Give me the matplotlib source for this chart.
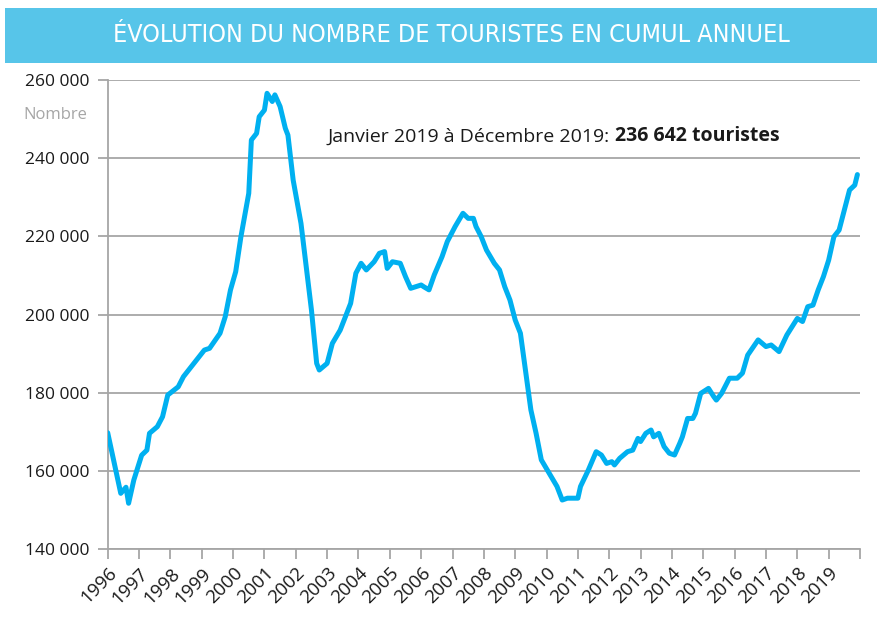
import matplotlib
matplotlib.use("Agg")
import matplotlib.pyplot as plt
import matplotlib.font_manager as fm
from matplotlib.patches import Rectangle
import matplotlib.transforms as mtransforms

# ---- data (month index from January 1996, cumulative annual tourists) ----
months = [0, 5, 7, 8, 10, 13, 15, 16, 19, 21, 23, 27, 29, 37, 39, 43, 45, 47, 49, 51,
          54, 55, 57, 58, 60, 61, 63, 64, 66, 68, 69, 71, 74, 76, 78, 80, 81, 84, 86, 89,
          91, 93, 95, 97, 99, 102, 104, 106, 107, 109, 112, 114, 116, 120, 121, 123, 125,
          128, 130, 133, 136, 138, 140, 141, 143, 145, 148, 150, 152, 154, 156, 158, 162,
          164, 166, 169, 172, 174, 176, 180, 181, 184, 187, 189, 191, 193, 194, 196, 199,
          201, 203, 204, 206, 208, 209, 211, 213, 215, 217, 219, 220, 222, 224, 225, 227,
          230, 232, 233, 235, 238, 241, 243, 245, 249, 252, 254, 257, 260, 264, 266, 268,
          270, 272, 274, 276, 278, 280, 282, 284, 286, 287]
tourists = [169750, 154240, 155800, 151700, 157650, 164000, 165300, 169600, 171300, 173850,
            179400, 181500, 184100, 190900, 191350, 195200, 199450, 206270, 210950, 219900,
            231000, 244650, 246350, 250600, 252300, 256600, 254500, 256200, 253200, 247650,
            245900, 234400, 223300, 212250, 201150, 187500, 185800, 187500, 192600, 196000,
            199400, 202850, 210550, 213100, 211400, 213500, 215650, 216100, 211800, 213500,
            213100, 209700, 206700, 207550, 207100, 206300, 210100, 214800, 218650, 222500,
            225900, 224600, 224600, 222500, 219900, 216500, 213100, 211400, 207100, 203700,
            198600, 195200, 175600, 169600, 162800, 159400, 156000, 152530, 153000, 153000,
            156000, 160200, 164900, 164050, 161900, 162350, 161500, 163200, 164900, 165300,
            168300, 167500, 169600, 170450, 168700, 169600, 166200, 164500, 164050, 167050,
            168700, 173400, 173400, 174700, 179800, 181100, 179000, 178100, 179800, 183700,
            183700, 185000, 189600, 193500, 191800, 192200, 190500, 194750, 199000, 198200,
            202000, 202400, 206300, 209700, 213900, 219900, 221600, 226700, 231850, 233100,
            235800]
start_year = 1996
year_labels = [str(y) for y in range(1996, 2020)]
y_ticks = [140000, 160000, 180000, 200000, 220000, 240000, 260000]
title = "ÉVOLUTION DU NOMBRE DE TOURISTES EN CUMUL ANNUEL"
note_plain = "Janvier 2019 à Décembre 2019: "
note_bold = "236 642 touristes"
unit_label = "Nombre"

# ---- fonts ----
names = {f.name for f in fm.fontManager.ttflist}
base_font = "Open Sans" if "Open Sans" in names else "DejaVu Sans"

# look for a condensed / narrow face for the banner title
title_prop = None
for f in fm.fontManager.ttflist:
    st = str(f.stretch).lower()
    if ("narrow" in f.name.lower() or "condensed" in f.name.lower()
            or st in ("condensed", "semi-condensed", "extra-condensed")) \
            and str(f.style) == "normal" and f.weight in (400, "normal", "regular"):
        title_prop = fm.FontProperties(fname=f.fname, size=18)
        break
if title_prop is None:
    title_prop = fm.FontProperties(family="Roboto", size=15)

W, H, DPI = 877, 622, 100
fig = plt.figure(figsize=(W / DPI, H / DPI), dpi=DPI)
fig.patch.set_facecolor("white")

# title banner
fig.add_artist(Rectangle((5 / W, 1 - 63 / H), (W - 5) / W, 55 / H,
                         transform=fig.transFigure, facecolor="#57C5E9",
                         edgecolor="none"))
fig.text(451 / W, 1 - 35 / H, title, color="white", fontproperties=title_prop,
         ha="center", va="center")

ax = fig.add_axes([107.7 / W, 1 - 549 / H, (860 - 107.7) / W, (549 - 80) / H])

x = [start_year + m / 12 for m in months]
ax.plot(x, tourists, color="#00B0F0", lw=3.6, solid_joinstyle="round",
        solid_capstyle="round", zorder=3)

ax.set_xlim(start_year, start_year + len(year_labels))
ax.set_ylim(y_ticks[0], y_ticks[-1])

grid_c = "#A6A6A6"
ax.set_yticks(y_ticks)
ax.set_yticklabels([f"{v:,}".replace(",", " ") for v in y_ticks],
                   fontsize=12.5, family=base_font, color="#1a1a1a")
ax.yaxis.grid(True, color=grid_c, lw=1.3)
ax.set_axisbelow(True)

xt = list(range(start_year, start_year + len(year_labels) + 1))
ax.set_xticks(xt)
ax.set_xticklabels(year_labels + [""], rotation=45, ha="right", va="top",
                   rotation_mode="anchor", fontsize=13.5, family=base_font,
                   color="#1a1a1a")
offset = mtransforms.ScaledTranslation(6 / DPI, -18 / DPI, fig.dpi_scale_trans)
for lab in ax.get_xticklabels():
    lab.set_transform(lab.get_transform() + offset)

ax.tick_params(axis="both", direction="out", length=7, width=1.3, color=grid_c)
ax.tick_params(axis="y", pad=6)
ax.tick_params(axis="x", pad=4)
for s in ["top", "right"]:
    ax.spines[s].set_visible(False)
for s in ["left", "bottom"]:
    ax.spines[s].set_color(grid_c)
    ax.spines[s].set_linewidth(1.3)

fig.text(55 / W, 1 - 115 / H, unit_label, color="#A6A6A6", fontsize=12,
         family=base_font, ha="center", va="center")

t1 = fig.text(328 / W, 1 - 146 / H, note_plain, color="#1a1a1a", fontsize=14,
              family=base_font, ha="left", va="bottom")
ax.annotate(note_bold, xy=(1, 0), xycoords=t1, ha="left", va="bottom",
            fontsize=14, family=base_font, fontweight="bold", color="#1a1a1a",
            annotation_clip=False)

fig.savefig("out.png", dpi=DPI)
